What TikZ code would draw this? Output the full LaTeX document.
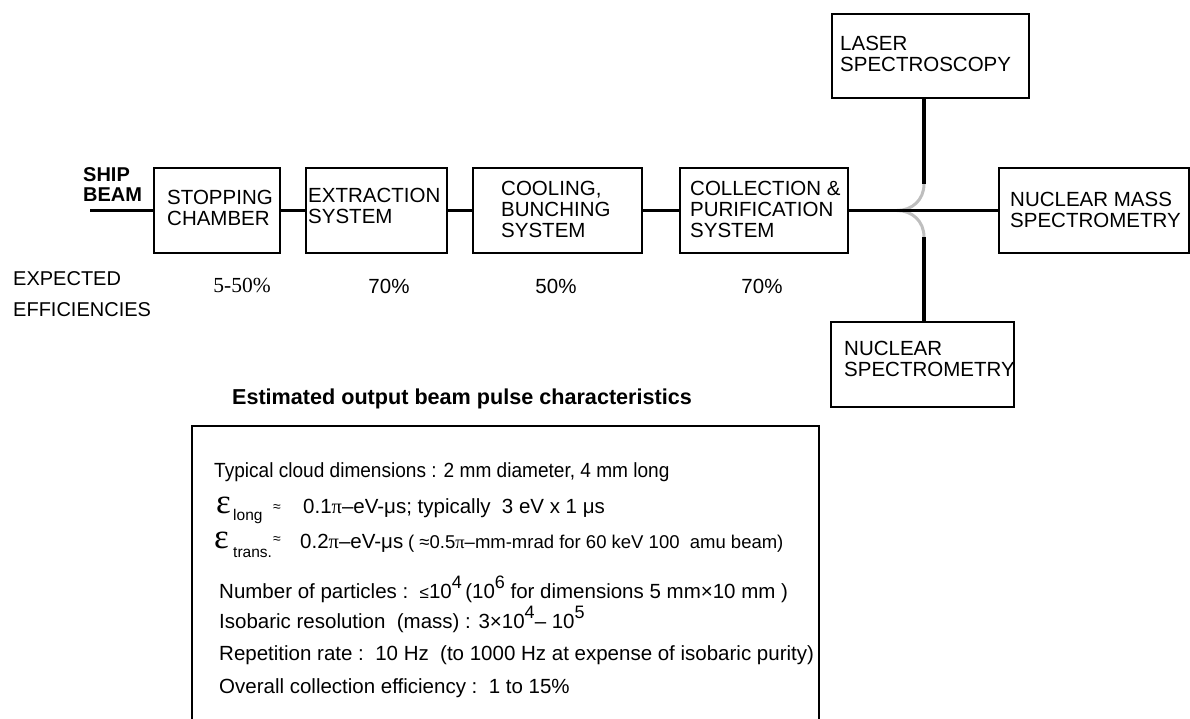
\documentclass[tikz,border=0pt]{standalone}
\usepackage{fontspec}
\usepackage{graphicx}
\setmainfont{Liberation Sans}
\newfontfamily\serifT{Liberation Serif}
\newcommand\fsz[1]{\fontsize{#1}{#1}\selectfont}
\definecolor{hopgray}{RGB}{190,190,190}
\tikzset{
  blk/.style={draw, line width=1.3pt, inner sep=0pt},
  conn/.style={line width=3.8pt},
  hop/.style={line width=3pt, draw=hopgray},
  lbl/.style={anchor=west, align=left, inner sep=0pt, font=\fontsize{20.5}{21}\selectfont},
  pct/.style={inner sep=0pt, font=\fontsize{20.5}{21}\selectfont},
  row/.style={anchor=base west, inner sep=0pt, font=\fsz{20.5}},
}
\begin{document}
\begin{tikzpicture}[x=1pt,y=-1pt]
\useasboundingbox (0,0) rectangle (1190,718);
% boxes
\node[blk, minimum width=126pt, minimum height=85pt] (stop) at (217,210.5) {};
\node[blk, minimum width=141pt, minimum height=85pt] (extr) at (376.5,210.5) {};
\node[blk, minimum width=169pt, minimum height=85pt] (cool) at (557.5,210.5) {};
\node[blk, minimum width=168pt, minimum height=85pt] (coll) at (764,210.5) {};
\node[blk, minimum width=190pt, minimum height=85pt] (nms) at (1094,210.5) {};
\node[blk, minimum width=197pt, minimum height=84pt] (laser) at (930.5,56) {};
\node[blk, minimum width=183pt, minimum height=85pt] (nspec) at (922.5,364.5) {};
% box texts
\node[lbl, font=\fontsize{20}{20.5}\selectfont\bfseries] (tship) at (83,184.5) {SHIP\\BEAM};
\node[lbl] (tstop) at (167,207.5) {STOPPING\\CHAMBER};
\node[lbl] (textr) at (308,205.5) {EXTRACTION\\SYSTEM};
\node[lbl] (tcool) at (501,209) {COOLING,\\BUNCHING\\SYSTEM};
\node[lbl] (tcoll) at (690,209.5) {COLLECTION \&\\PURIFICATION\\SYSTEM};
\node[lbl] (tnms) at (1010,209.5) {NUCLEAR MASS\\SPECTROMETRY};
\node[lbl] (tlaser) at (840,54) {LASER\\SPECTROSCOPY};
\node[lbl] (tnspec) at (844,359) {NUCLEAR\\SPECTROMETRY};
% efficiencies
\node[lbl, font=\fontsize{20}{31}\selectfont] (texp) at (13,294.5) {EXPECTED\\EFFICIENCIES};
\node[pct, font=\serifT\fontsize{21.5}{22}\selectfont] (p1) at (242,285) {5-50\%};
\node[pct] (p2) at (389,286) {70\%};
\node[pct] (p3) at (556,286) {50\%};
\node[pct] (p4) at (762,286) {70\%};
% connectors
\coordinate (bs) at (90,210.5);
\coordinate (j) at (924,210.5);
\coordinate (jt) at (924,184);
\coordinate (jb) at (924,237);
\coordinate (jl) at (897,210.5);
\draw[hop] (jt) .. controls (924,200) and (912,210.5) .. (jl);
\draw[hop] (jl) .. controls (912,210.5) and (924,221) .. (jb);
\draw[conn] (bs) -- (stop.west);
\draw[conn] (stop.east) -- (extr.west);
\draw[conn] (extr.east) -- (cool.west);
\draw[conn] (cool.east) -- (coll.west);
\draw[conn] (coll.east) -- (nms.west);
\draw[conn] (laser.south -| j) -- (jt);
\draw[conn] (jb) -- (nspec.north -| j);
% title
\node[inner sep=0pt, font=\bfseries\fontsize{21.6}{22}\selectfont] (title) at (462,399) {Estimated output beam pulse characteristics};
% characteristics box
\node[blk, minimum width=627pt, minimum height=300pt] (charbox) at (505.5,576) {};
\node[row] (r1) at (214,477) {\scalebox{0.93}[1]{Typical cloud dimensions : 2 mm diameter, 4 mm long}};
\node[row] (r2) at (216,513) {\makebox[17pt][l]{\serifT\fsz{35}ε}\makebox[40pt][l]{\raisebox{-7pt}{\fsz{15.5}long}}\makebox[30pt][l]{\raisebox{2pt}{\fsz{14}≈}}0.1{\serifT π}–eV-μs; typically~~3 eV x 1 μs};
\node[row] (r3) at (214,548) {\makebox[19pt][l]{\serifT\fsz{35}ε}\makebox[40pt][l]{\raisebox{-9pt}{\fsz{15.5}trans.}}\makebox[27pt][l]{\raisebox{5pt}{\fsz{14}≈}}\makebox[108pt][l]{0.2{\serifT π}–eV-μs}{\fsz{18.5}(~≈0.5{\serifT π}–mm-mrad for 60 keV 100~~amu beam)}};
\node[row] (r4) at (219,598) {Number of particles :~~{\fsz{17}≤}10\raisebox{10pt}{\fsz{18}4}\,(10\raisebox{10pt}{\fsz{18}6} for dimensions 5 mm×10 mm )};
\node[row] (r5) at (219,628) {Isobaric resolution~~(mass) : 3×10\raisebox{10pt}{\fsz{18}4}– 10\raisebox{10pt}{\fsz{18}5}};
\node[row] (r6) at (219,660) {Repetition rate :~~10 Hz~~(to 1000 Hz at expense of isobaric purity)};
\node[row] (r7) at (219,693) {Overall collection efficiency :~~1 to 15\%};
\end{tikzpicture}
\end{document}
